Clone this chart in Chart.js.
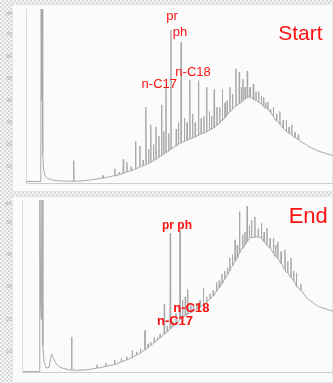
<!DOCTYPE html>
<html><head><meta charset="utf-8">
<script src="https://cdn.jsdelivr.net/npm/chart.js@4.4.0/dist/chart.umd.min.js"></script>
<style>
html,body{margin:0;padding:0;}
body{width:333px;height:383px;overflow:hidden;position:relative;
background:repeating-conic-gradient(#d9d9d9 0 25%, #f7f7f7 0 50%) 0 0/4px 4px;}
.panel{position:absolute;background:#fbfbfb;border:1px solid #e6e6e6;box-sizing:border-box;}
.cw{position:absolute;}
</style></head><body>
<div class="panel" style="left:12px;top:4px;width:321px;height:188px"></div>
<div class="panel" style="left:12px;top:196px;width:321px;height:187px"></div>
<div class="cw" style="left:0;top:0;width:333px;height:192px"><canvas id="c1"></canvas></div>
<div class="cw" style="left:0;top:194px;width:333px;height:189px"><canvas id="c2"></canvas></div>
<script>
// ---- data (retention time in min, signal in pA) ----
const xTicks = [0, 5, 10, 15, 20, 25];
const topYTicks = [10, 20, 30, 40, 50, 60, 70];
const botYTicks = [10, 20, 30, 40, 50];
const unitLabel = "pA";

// Start: baseline / hump trace [t, pA]
const startBase = [[0,3.3],[1.36,3.3],[1.40,88],[1.44,40],[1.49,88],[1.54,16],[1.62,9],[1.75,6],[2,4.6],[2.5,3.9],[3,3.6],[4,3.4],[5,3.5],[6,4.0],[7,4.8],[8,5.8],[9,7.2],[10,8.8],[11,10.8],[12,13.5],[13,16.5],[14,20],[15,22.5],[16,24.5],[17,27],[18,31],[19,36],[20,40],[20.5,41.5],[21,40.5],[22,36.5],[23,31],[24,26],[25,22.5],[26,19.3],[27,17],[28.3,15]];
// Start: resolved peaks [t, apex pA, foot pA]
const startPeaks = [[4.4,12.7,3.4],[7.1,6,4.8],[8.2,9,5.9],[8.6,7.5,6.4],[8.97,13.4,7.0],[9.3,12,7.6],[9.7,10,8.2],[10.1,21.5,9.0],[10.5,19.3,9.8],[10.8,13,10.4],[11.06,37,10.9],[11.3,18,11.5],[11.5,29,12],[11.75,20,12.7],[11.98,28,13.4],[12.25,24,14.2],[12.5,38,15],[12.7,26,15.7],[12.9,45.5,16.3],[13.15,25,17.1],[13.36,72,17.9],[13.85,27,19.5],[14.05,30,20.2],[14.3,66.3,20.8],[14.6,32,21.5],[14.85,30,22],[15.1,49.4,22.5],[15.35,34,23],[15.6,30,23.5],[15.9,49,24.3],[16.15,32,24.8],[16.4,33,25.3],[16.65,46,25.8],[16.9,35,26.5],[17.1,33,27],[17.35,45,27.8],[17.6,37,28.7],[17.85,37,29.8],[18.1,45,31],[18.35,39,32.2],[18.55,40,33.5],[18.8,46,35],[19.05,43,36.2],[19.35,54.4,37.5],[19.66,52.7,38.5],[19.85,46,39.3],[20.0,49.7,40],[20.2,46,40.8],[20.4,53.4,41.3],[20.65,46,41.5],[20.95,47.5,40.8],[21.2,44,40],[21.45,44,39.3],[21.7,42,38.3],[21.9,41.5,37.5],[22.1,39,36.7],[22.3,39.3,36],[22.55,36,34.5],[22.8,37,33],[23.1,34,31],[23.4,35,29.3],[23.7,31,27.5],[24,31.2,26],[24.25,28,25.2],[24.5,29,24.4],[24.8,25.5,23.2],[25.1,24.5,22.2]];

// End: baseline / hump trace [t, pA]
const endBase = [[0,3.9],[1.5,3.9],[1.56,70],[1.63,25],[1.70,20],[1.77,70],[1.84,12],[1.95,7],[2.15,5],[2.4,5.2],[2.55,8],[2.65,9.3],[2.8,8.2],[3.0,6.6],[3.3,5.5],[3.7,4.9],[4.2,4.5],[5,4.3],[6,4.5],[7,5.1],[8,5.8],[9,6.9],[10,8.3],[11,10.3],[12,12.8],[13,15.6],[14,19],[15,21.8],[16,23.4],[17,26],[18,30],[19,36],[20,42],[20.7,45.3],[21.5,45.5],[22,44],[23,39.6],[24,34.8],[25,30],[26,26.5],[27,24],[28.4,22.5]];
// End: resolved peaks [t, apex pA, foot pA]
const endPeaks = [[4.47,14.6,4.4],[6.8,6,5],[7.6,6.5,5.5],[8.4,7.5,6.1],[9.0,8,6.9],[9.5,8.5,7.5],[10.0,10.5,8.3],[10.4,10,9],[10.75,11,9.7],[11.17,16.6,10.6],[11.45,12.5,11.3],[11.7,13,12],[12.0,14.5,12.8],[12.3,14.5,13.6],[12.55,15.5,14.3],[12.93,24.8,15.4],[13.2,18,16.2],[13.48,46.6,17.1],[13.7,19.5,17.8],[14.0,22,18.9],[14.37,47.4,20],[14.6,26,20.6],[14.85,27,21.1],[15.07,29.3,21.6],[15.35,25,22.1],[15.6,24.5,22.6],[15.9,25,23.2],[16.2,26,23.8],[16.5,29.8,24.5],[16.8,27,25.3],[17.1,28,26.3],[17.4,29,27.3],[17.7,31.4,28.7],[17.95,32,29.8],[18.2,34,31],[18.45,35,32.4],[18.7,36,33.8],[18.9,39,35],[19.15,40,36.5],[19.4,44.6,38],[19.6,43,39],[19.8,53.3,40.5],[20.1,46,42],[20.3,47,43],[20.5,55,44],[20.7,49,45],[20.9,50.7,45.3],[21.2,51.7,45.4],[21.5,48,45.5],[21.8,49.7,45.2],[22.05,47,44],[22.3,48.2,43],[22.6,45,42],[22.9,45.1,40.5],[23.1,43,39.5],[23.3,44,38.8],[23.6,41,37.3],[23.95,41.5,35.5],[24.2,38,34.5],[24.5,39,33],[24.75,35,32],[25,34.4,30.5],[25.4,31,29]];

// annotations [text, t, pA]
const startNotes = [["pr",13.46,78],["ph",14.19,70.9],["n-C18",15.4,52.7],["n-C17",12.29,47.3],["Start",25.3,70.1]];
const endNotes = [["pr ph",14.09,48.9],["n-C18",15.4,23.4],["n-C17",13.91,19.45],["End",26.08,51.7]];

// ---- build ----
function trace(base, peaks){
  const pts = base.map(([x,y])=>({x,y}));
  peaks.forEach(([t,top,foot])=>{ pts.push({x:t-0.03,y:foot},{x:t,y:top},{x:t+0.03,y:foot}); });
  pts.sort((a,b)=>a.x-b.x);
  return pts;
}
function notesPlugin(notes, fonts){
  return {id:'notes', afterDatasetsDraw(chart){
    const {ctx, scales:{x,y}} = chart;
    ctx.save();
    ctx.fillStyle = '#ff1010'; ctx.textAlign='center'; ctx.textBaseline='middle';
    notes.forEach(([txt,t,v],i)=>{ ctx.font = fonts[i]; ctx.fillText(txt, x.getPixelForValue(t), y.getPixelForValue(v)); });
    ctx.restore();
  }};
}
function make(id, pts, c){
  const tickFont = {size:5, family:'Liberation Sans'};
  return new Chart(document.getElementById(id), {
    type:'line',
    data:{datasets:[{data:pts, borderColor:'#a8a8a8', borderWidth:1, pointRadius:0, tension:0, fill:false}]},
    options:{
      responsive:true, maintainAspectRatio:false, animation:false, devicePixelRatio:1,
      layout:{padding:{top:c.padTop,left:0,right:0,bottom:0}},
      plugins:{legend:{display:false}, tooltip:{enabled:false}},
      scales:{
        x:{type:'linear', min:0, max:c.xMax,
          grid:{display:false}, border:{color:'#cdcdcd'},
          ticks:{font:tickFont, color:'#a8a8a8', padding:c.xPad, maxRotation:0, autoSkip:false, callback:v=>String(v)},
          afterBuildTicks:s=>{ s.ticks = xTicks.map(v=>({value:v})); },
          afterFit:s=>{ s.height = c.xH; }},
        y:{type:'linear', min:c.yMin, max:c.yMax,
          grid:{display:false}, border:{color:'#dadada'},
          ticks:{font:tickFont, color:'#a8a8a8', padding:c.yPad, autoSkip:false, callback:v=> v===c.unitAt ? unitLabel : String(v)},
          afterBuildTicks:s=>{ s.ticks = c.yTicks.concat([c.unitAt]).map(v=>({value:v})); },
          afterFit:s=>{ s.width = c.yW; }}
      }
    },
    plugins:[notesPlugin(c.notes, c.fonts)]
  });
}
make('c1', trace(startBase, startPeaks), {xMax:28.3, yMin:2.6, yMax:81.5, padTop:5, xH:9, yW:26, xPad:4, yPad:6, yTicks:topYTicks, unitAt:79.3,
  notes:startNotes, fonts:['13px Liberation Sans','13px Liberation Sans','13px Liberation Sans','13px Liberation Sans','21px Liberation Sans']});
make('c2', trace(endBase, endPeaks), {xMax:28.34, yMin:3.57, yMax:56.9, padTop:4, xH:10.3, yW:22.7, xPad:3, yPad:3, yTicks:botYTicks, unitAt:55.8,
  notes:endNotes, fonts:['bold 12px Liberation Sans','bold 13px Liberation Sans','bold 13px Liberation Sans','22px Liberation Sans']});
</script>
</body></html>
